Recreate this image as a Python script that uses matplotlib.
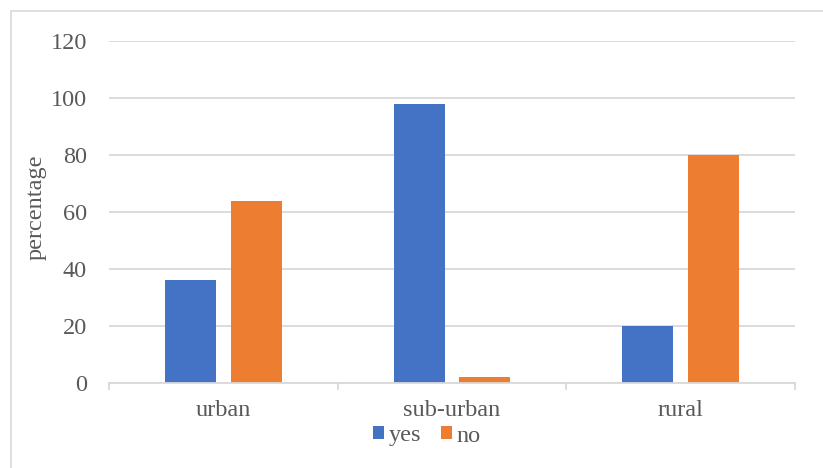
import matplotlib
matplotlib.use("Agg")
import matplotlib.pyplot as plt
import numpy as np
from matplotlib.patches import Rectangle

categories = ["urban", "sub-urban", "rural"]
yes_values = [36, 98, 20]
no_values = [64, 2, 80]
y_ticks = [0, 20, 40, 60, 80, 100, 120]

plt.rcParams['font.family'] = ['Liberation Serif', 'DejaVu Serif']
TXT = '#595959'
GRID = '#D9D9D9'
BLUE = '#4472C4'
ORANGE = '#ED7D31'

W, H = 823, 468
fig = plt.figure(figsize=(W/100, H/100), dpi=100)
fig.patches.append(Rectangle((11/W, -0.1), 1.2, 1 - 11/H + 0.1, transform=fig.transFigure,
                             fill=False, edgecolor=GRID, lw=1.2, zorder=0))

ax = fig.add_axes([109/W, 1 - 383/H, (795-109)/W, (383-41)/H])
x = np.arange(len(categories))
bw = 0.223
off = 0.1435
ax.bar(x - off, yes_values, bw, color=BLUE, label='yes', zorder=3)
ax.bar(x + off, no_values, bw, color=ORANGE, label='no', zorder=3)

ax.set_xlim(-0.5, len(categories) - 0.5)
ax.set_ylim(0, 120)
ax.set_yticks(y_ticks)
ax.set_yticklabels([str(v) for v in y_ticks])
ax.set_xticks(x)
ax.set_xticklabels(categories)
ax.set_xticks(np.arange(len(categories) + 1) - 0.5, minor=True)
ax.tick_params(axis='x', which='major', length=0, pad=12, labelsize=17.5, colors=TXT)
ax.tick_params(axis='x', which='minor', length=5, width=1.3, color=GRID)
ax.tick_params(axis='y', length=0, pad=16, labelsize=17.5, colors=TXT)
ax.yaxis.grid(True, color=GRID, lw=1.3, zorder=0)
ax.set_axisbelow(True)
for s in ['top', 'right', 'left']:
    ax.spines[s].set_visible(False)
ax.spines['bottom'].set_color(GRID)
ax.spines['bottom'].set_linewidth(1.3)
ax.spines['bottom'].set_zorder(4)

fig.text(36/W, 1 - 207/H, 'percentage', rotation=90, ha='center', va='center',
         fontsize=17.5, color=TXT)

fig.legend(loc='center', bbox_to_anchor=(427/W, 1 - 436/H), ncol=2, frameon=False,
           handlelength=0.45, handleheight=0.45, handletextpad=0.2, columnspacing=0.8,
           fontsize=17.5, labelcolor=TXT, borderaxespad=0, borderpad=0)

fig.savefig('out.png', dpi=100)
